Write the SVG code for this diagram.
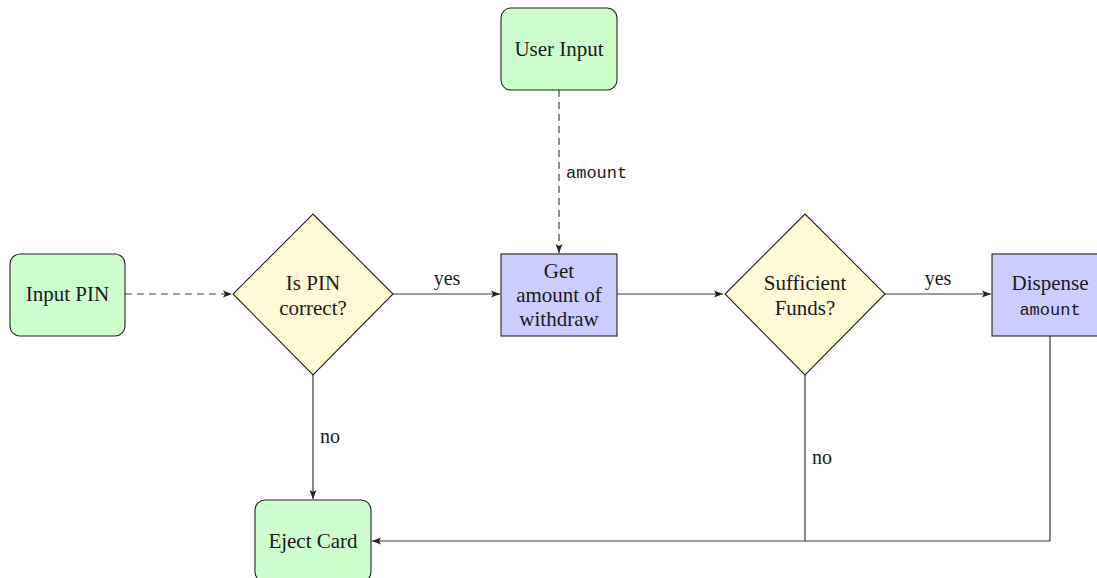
<svg xmlns="http://www.w3.org/2000/svg" width="1097" height="578" viewBox="0 0 1097 578">
<style>
.t{font-family:"Liberation Serif","DejaVu Serif",serif;font-size:21px;fill:#1a1a1a;text-anchor:middle}
.m{font-family:"Liberation Mono","DejaVu Sans Mono",monospace;font-size:17px;fill:#1a1a1a}
.lbl{font-family:"Liberation Serif","DejaVu Serif",serif;font-size:20px;fill:#1a1a1a}
.term{fill:#ccffcc;stroke:#222;stroke-width:1.1}
.proc{fill:#ccccff;stroke:#222;stroke-width:1.1}
.dec{fill:#fffad6;stroke:#222;stroke-width:1.1}
.c{fill:none;stroke:#3a3a3a;stroke-width:1.2}
.d{fill:none;stroke:#444;stroke-width:1.2;stroke-dasharray:7,5}
</style>
<defs>
<marker id="ah" markerWidth="10" markerHeight="8" refX="9" refY="4" orient="auto" markerUnits="userSpaceOnUse">
<path d="M0,0.5 L9,4 L0,7.5 L2,4 Z" fill="#222"/>
</marker>
</defs>
<g id="connectors">
<path class="d" d="M125,294 L232,294" marker-end="url(#ah)"/>
<path class="c" d="M393,294 L500,294" marker-end="url(#ah)"/>
<text class="lbl" x="447" y="285" text-anchor="middle">yes</text>
<path class="d" d="M559,90 L559,253" marker-end="url(#ah)"/>
<text class="m" x="566" y="178">amount</text>
<path class="c" d="M617,294 L723,294" marker-end="url(#ah)"/>
<path class="c" d="M885,294 L991,294" marker-end="url(#ah)"/>
<text class="lbl" x="938" y="285" text-anchor="middle">yes</text>
<path class="c" d="M313,375 L313,499" marker-end="url(#ah)"/>
<text class="lbl" x="320" y="443">no</text>
<path class="c" d="M805,375 L805,541 L372,541" marker-end="url(#ah)"/>
<text class="lbl" x="812" y="464">no</text>
<path class="c" d="M1050,336 L1050,541 L805,541"/>
</g>
<g id="input-pin">
<rect class="term" x="10" y="254" width="115" height="82" rx="10"/>
<text class="t" x="67.5" y="301">Input PIN</text>
</g>
<g id="is-pin-correct">
<polygon class="dec" points="313,214 393,294 313,375 233,294"/>
<text class="t" x="313" y="290">Is PIN</text>
<text class="t" x="313" y="315">correct?</text>
</g>
<g id="user-input">
<rect class="term" x="501" y="8" width="116" height="82" rx="10"/>
<text class="t" x="559" y="56">User Input</text>
</g>
<g id="get-amount">
<rect class="proc" x="501" y="254" width="116" height="82"/>
<text class="t" x="559" y="278">Get</text>
<text class="t" x="559" y="302">amount of</text>
<text class="t" x="559" y="326">withdraw</text>
</g>
<g id="sufficient-funds">
<polygon class="dec" points="805,214 885,294 805,375 725,294"/>
<text class="t" x="805" y="290">Sufficient</text>
<text class="t" x="805" y="315">Funds?</text>
</g>
<g id="dispense">
<rect class="proc" x="992" y="254" width="116" height="82"/>
<text class="t" x="1050" y="290">Dispense</text>
<text class="m" x="1050" y="315" text-anchor="middle">amount</text>
</g>
<g id="eject-card">
<rect class="term" x="255" y="500" width="116" height="82" rx="10"/>
<text class="t" x="313" y="548">Eject Card</text>
</g>
</svg>
